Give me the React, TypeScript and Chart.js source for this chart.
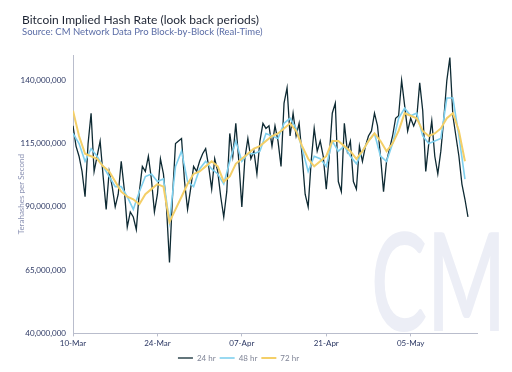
import React, { useEffect, useRef } from "react";
import { Chart, registerables } from "chart.js";

Chart.register(...registerables);

const TITLE = "Bitcoin Implied Hash Rate (look back periods)";
const SUBTITLE = "Source: CM Network Data Pro Block-by-Block (Real-Time)";
const Y_AXIS_TITLE = "Terahashes per Second";
const WATERMARK = "CM";

const X_TICK_DAYS = [0, 14, 28, 42, 56];
const X_TICK_LABELS = ["10-Mar", "24-Mar", "07-Apr", "21-Apr", "05-May"];
const Y_TICKS = [40000000, 65000000, 90000000, 115000000, 140000000];
const SERIES_NAMES = ["24 hr", "48 hr", "72 hr"];

// Millions of TH/s, sampled every half day from 10-Mar
const hr24 = [
  122, 114, 110, 104, 94, 115, 127, 104, 110, 116,
  102, 89, 104, 98, 90, 95, 108, 97, 82, 88,
  86, 81, 96, 106, 104, 110, 101, 88, 95, 109,
  103, 90, 68, 94, 115, 116, 117, 100, 89, 97,
  106, 104, 108, 111, 113, 106, 97, 109, 104, 94,
  86, 96, 119, 110, 123, 108, 90, 109, 117, 109,
  112, 103, 116, 123, 121, 122, 114, 122, 116, 106,
  131, 137, 118, 127, 118, 123, 110, 95, 90, 108,
  121, 112, 116, 110, 97, 110, 127, 131, 100, 96,
  123, 112, 116, 100, 97, 114, 108, 114, 118, 120,
  127, 122, 110, 96, 108, 113, 118, 125, 126, 140,
  130, 120, 125, 122, 125, 139, 128, 104, 115, 124,
  110, 103, 112, 125, 140, 149, 126, 118, 110, 99,
  93, 86,
];

// Millions of TH/s, sampled every day from 10-Mar
const hr48 = [
  119, 115, 108, 113, 110, 106, 102, 98, 98, 94,
  89, 96, 102, 103, 100, 101, 84, 106, 112, 100,
  98, 105, 108, 105, 103, 99, 108, 116, 108, 111,
  111, 112, 119, 118, 117, 123, 125, 121, 113, 104,
  110, 109, 106, 116, 112, 114, 110, 107, 112, 116,
  119, 110, 108, 115, 125, 129, 126, 127, 118, 115,
  116, 117, 133, 133, 118, 101,
];

const hr72 = [
  128, 118, 111, 110, 109, 106, 104, 100, 96, 94,
  93, 91, 95, 97, 99, 98, 84, 89, 94, 99,
  103, 104, 106, 108, 106, 100, 102, 107, 109, 111,
  113, 114, 116, 118, 119, 121, 123, 120, 114, 109,
  106, 108, 110, 116, 116, 114, 112, 109, 112, 116,
  119, 116, 112, 115, 120, 127, 126, 125, 120, 118,
  119, 121, 125, 127, 120, 108,
];

const toPoints = (vals: number[], step: number) =>
  vals.map((v, i) => ({ x: i * step, y: v * 1000000 }));

const headerPlugin = {
  id: "header",
  beforeDraw(chart: any) {
    const ctx = chart.ctx;
    ctx.save();
    ctx.fillStyle = "#ffffff";
    ctx.fillRect(0, 0, chart.width, chart.height);
    // watermark
    ctx.fillStyle = "#eceef6";
    ctx.font = "600 136px Lato";
    ctx.textBaseline = "alphabetic";
    ctx.translate(371, 331);
    ctx.scale(0.62, 1);
    ctx.fillText(WATERMARK, 0, 0);
    ctx.restore();

    ctx.save();
    ctx.textBaseline = "alphabetic";
    ctx.fillStyle = "#1d2433";
    ctx.font = "12px Lato";
    ctx.fillText(TITLE, 22, 24);
    ctx.fillStyle = "#5a6ca6";
    ctx.font = "9.5px Lato";
    ctx.fillText(SUBTITLE, 22, 35);
    ctx.restore();
  },
};

export default function App() {
  const ref = useRef<HTMLCanvasElement | null>(null);

  useEffect(() => {
    document.body.style.margin = "0";
    const canvas = ref.current;
    if (!canvas) return;
    const chart = new Chart(canvas, {
      type: "line",
      data: {
        datasets: [
          {
            label: SERIES_NAMES[0],
            data: toPoints(hr24, 0.5),
            borderColor: "#0e2a33",
            backgroundColor: "#0e2a33",
            borderWidth: 1.3,
            pointRadius: 0,
            tension: 0,
            order: 2,
          },
          {
            label: SERIES_NAMES[1],
            data: toPoints(hr48, 1),
            borderColor: "#7fd0ee",
            backgroundColor: "#7fd0ee",
            borderWidth: 1.6,
            pointRadius: 0,
            tension: 0,
            order: 1,
          },
          {
            label: SERIES_NAMES[2],
            data: toPoints(hr72, 1),
            borderColor: "#f4cf68",
            backgroundColor: "#f4cf68",
            borderWidth: 2,
            pointRadius: 0,
            tension: 0,
            order: 0,
          },
        ],
      },
      options: {
        responsive: false,
        animation: false,
        layout: { padding: { top: 55, right: 35, left: 0, bottom: 0 } },
        scales: {
          x: {
            type: "linear",
            min: 0,
            max: 67,
            afterBuildTicks: (scale: any) => {
              scale.ticks = X_TICK_DAYS.map((v) => ({ value: v }));
            },
            ticks: {
              autoSkip: false,
              maxRotation: 0,
              padding: 2,
              color: "#2b3763",
              font: { family: "Lato", size: 8 },
              callback: (_v: any, i: number) => X_TICK_LABELS[i],
            },
            grid: {
              display: true,
              drawOnChartArea: false,
              drawTicks: true,
              tickLength: 3,
              color: "#b9bdcc",
            },
            border: { display: true, color: "#b9bdcc", width: 1 },
          },
          y: {
            type: "linear",
            min: 40000000,
            max: 150000000,
            afterBuildTicks: (scale: any) => {
              scale.ticks = Y_TICKS.map((v) => ({ value: v }));
            },
            afterFit: (scale: any) => {
              scale.width = 73;
            },
            ticks: {
              padding: 7,
              color: "#2b3763",
              font: { family: "Lato", size: 8 },
              callback: (v: any) => Number(v).toLocaleString("en-US"),
            },
            grid: { display: true, drawOnChartArea: false, drawTicks: false, color: "#b9bdcc" },
            border: { display: true, color: "#b9bdcc", width: 1 },
            title: {
              display: true,
              text: Y_AXIS_TITLE,
              color: "#8d94b5",
              font: { family: "Lato", size: 8 },
              padding: { top: 17, bottom: 0 },
            },
          },
        },
        plugins: {
          legend: {
            position: "bottom",
            labels: {
              usePointStyle: true,
              pointStyle: "line",
              pointStyleWidth: 15,
              boxHeight: 8,
              padding: 4,
              color: "#7f8496",
              font: { family: "Lato", size: 8 },
              sort: (a: any, b: any) => a.datasetIndex - b.datasetIndex,
            },
          },
          tooltip: { enabled: false },
          title: { display: false },
        },
      },
      plugins: [headerPlugin],
    } as any);
    return () => chart.destroy();
  }, []);

  return (
    <div style={{ width: 512, height: 372, position: "relative" }}>
      <canvas ref={ref} width={512} height={372} style={{ width: 512, height: 372, display: "block" }} />
    </div>
  );
}
